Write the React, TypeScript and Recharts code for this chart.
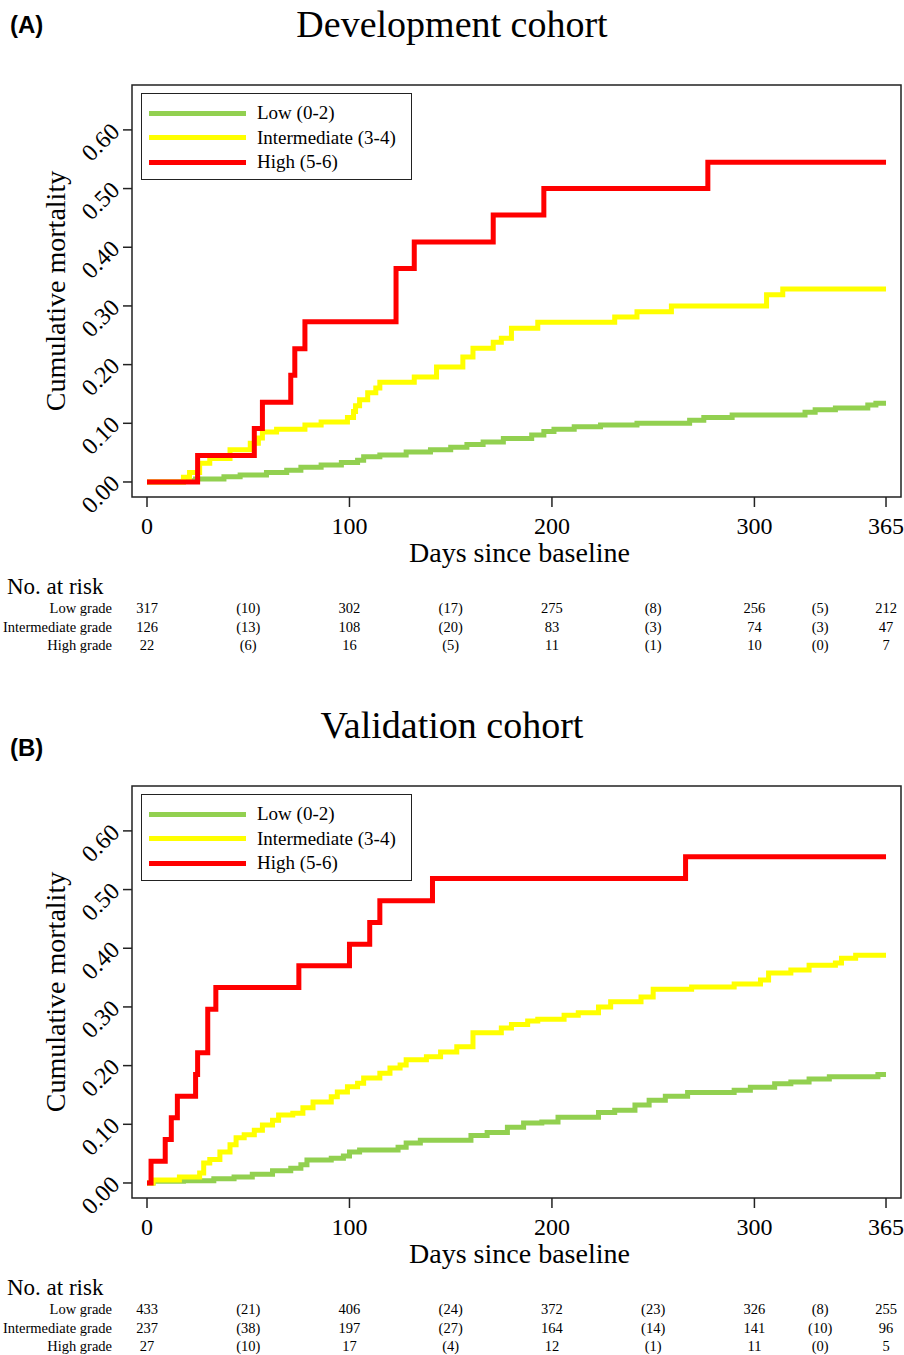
import React from "react";
import { LineChart, Line, XAxis, YAxis, ReferenceArea, Legend } from "recharts";

// ---- data (day, cumulative mortality) ----
const devLow: number[][] = [
  [0, 0], [18, 0.002], [24, 0.005], [38, 0.009], [46, 0.012], [59, 0.016], [69, 0.02],
  [76, 0.025], [86, 0.029], [96, 0.033], [104, 0.037], [107, 0.043], [115, 0.046],
  [128, 0.051], [140, 0.055], [150, 0.059], [158, 0.064], [166, 0.068], [176, 0.074],
  [190, 0.08], [196, 0.086], [201, 0.09], [211, 0.094], [224, 0.097], [242, 0.1],
  [268, 0.105], [275, 0.11], [289, 0.114], [325, 0.119], [330, 0.123], [340, 0.126],
  [356, 0.131], [360, 0.134], [365, 0.134],
];
const devMid: number[][] = [
  [0, 0], [18, 0.008], [21, 0.016], [26, 0.032], [31, 0.04], [41, 0.055], [51, 0.066],
  [55, 0.075], [57, 0.085], [64, 0.09], [78, 0.097], [86, 0.102], [99, 0.11], [102, 0.12],
  [103, 0.13], [105, 0.14], [109, 0.152], [113, 0.16], [115, 0.17], [132, 0.179],
  [143, 0.196], [156, 0.213], [161, 0.228], [171, 0.238], [175, 0.245], [180, 0.262],
  [193, 0.272], [231, 0.281], [242, 0.29], [259, 0.3], [306, 0.319], [314, 0.329],
  [365, 0.329],
];
const devHigh: number[][] = [
  [0, 0], [25, 0.045], [53, 0.091], [57, 0.136], [71, 0.182], [73, 0.227], [78, 0.273],
  [123, 0.364], [132, 0.409], [171, 0.455], [196, 0.5], [277, 0.545], [365, 0.545],
];

const valLow: number[][] = [
  [0, 0], [3, 0.003], [18, 0.004], [33, 0.007], [43, 0.01], [52, 0.015], [62, 0.021],
  [71, 0.025], [76, 0.031], [79, 0.039], [91, 0.042], [97, 0.046], [100, 0.053],
  [105, 0.056], [124, 0.061], [128, 0.068], [135, 0.073], [160, 0.081], [168, 0.086],
  [178, 0.095], [186, 0.102], [195, 0.104], [203, 0.112], [223, 0.12], [231, 0.124],
  [241, 0.133], [248, 0.141], [256, 0.148], [267, 0.154], [290, 0.158], [298, 0.163],
  [310, 0.169], [318, 0.172], [327, 0.177], [337, 0.181], [361, 0.185], [365, 0.185],
];
const valMid: number[][] = [
  [0, 0], [3, 0.005], [16, 0.01], [26, 0.017], [28, 0.034], [31, 0.04], [36, 0.053],
  [41, 0.065], [44, 0.077], [48, 0.082], [53, 0.09], [57, 0.099], [62, 0.107], [65, 0.116],
  [72, 0.119], [77, 0.128], [82, 0.138], [91, 0.147], [94, 0.155], [99, 0.164],
  [104, 0.17], [107, 0.179], [115, 0.187], [120, 0.196], [125, 0.201], [128, 0.21],
  [138, 0.215], [145, 0.223], [153, 0.232], [161, 0.256], [175, 0.264], [180, 0.27],
  [188, 0.276], [193, 0.279], [206, 0.286], [213, 0.29], [223, 0.3], [229, 0.309],
  [244, 0.317], [250, 0.33], [269, 0.334], [290, 0.339], [303, 0.346], [307, 0.358],
  [318, 0.363], [327, 0.371], [340, 0.375], [343, 0.383], [350, 0.388], [365, 0.388],
];
const valHigh: number[][] = [
  [0, 0], [2, 0.037], [9, 0.074], [12, 0.111], [15, 0.148], [24, 0.185], [25, 0.222],
  [30, 0.296], [34, 0.333], [75, 0.37], [100, 0.407], [110, 0.444], [115, 0.481],
  [141, 0.519], [266, 0.556], [365, 0.556],
];

// ---- risk tables ----
const riskDays = [0, 50, 100, 150, 200, 250, 300, 332.5, 365];
const devRiskLow = ["317", "(10)", "302", "(17)", "275", "(8)", "256", "(5)", "212"];
const devRiskMid = ["126", "(13)", "108", "(20)", "83", "(3)", "74", "(3)", "47"];
const devRiskHigh = ["22", "(6)", "16", "(5)", "11", "(1)", "10", "(0)", "7"];
const valRiskLow = ["433", "(21)", "406", "(24)", "372", "(23)", "326", "(8)", "255"];
const valRiskMid = ["237", "(38)", "197", "(27)", "164", "(14)", "141", "(10)", "96"];
const valRiskHigh = ["27", "(10)", "17", "(4)", "12", "(1)", "11", "(0)", "5"];

const groupNames = ["Low (0-2)", "Intermediate (3-4)", "High (5-6)"];
const groupColors = ["#92D050", "#FFFF00", "#FF0000"];
const riskLabels = ["Low grade", "Intermediate grade", "High grade"];
const xTicks = [0, 100, 200, 300, 365];
const yTicks = [0, 0.1, 0.2, 0.3, 0.4, 0.5, 0.6];

const serif = '"Liberation Serif", "Times New Roman", serif';
const X_MIN = -7.41;
const X_MAX = 372.4;
const Y_MIN = -0.0256;
const Y_MAX = 0.6765;
const PLOT_LEFT = 132;
const PLOT_RIGHT = 901;

const toPoints = (s: number[][]) => s.map(([x, y]) => ({ x, y }));
const dayToPx = (d: number) =>
  PLOT_LEFT + ((d - X_MIN) / (X_MAX - X_MIN)) * (PLOT_RIGHT - PLOT_LEFT);

const YTick = ({ x, y, payload }: any) => {
  const ay = y + 3;
  return (
    <text
      x={x}
      y={ay}
      transform={`rotate(-45 ${x} ${ay})`}
      textAnchor="end"
      fontFamily={serif}
      fontSize={24}
      fill="#000"
    >
      {Number(payload.value).toFixed(2)}
    </text>
  );
};

const XTick = ({ x, y, payload }: any) => (
  <text x={x} y={y} dy={25} textAnchor="middle" fontFamily={serif} fontSize={24} fill="#000">
    {payload.value}
  </text>
);

const XTitle = ({ viewBox }: any) => (
  <text
    x={viewBox.x + viewBox.width / 2 + 3}
    y={viewBox.y + 65}
    textAnchor="middle"
    fontFamily={serif}
    fontSize={28}
    fill="#000"
  >
    Days since baseline
  </text>
);

const YTitle = ({ viewBox }: any) => {
  const cx = 55;
  const cy = viewBox.y + viewBox.height / 2;
  return (
    <text
      x={cx}
      y={cy}
      transform={`rotate(-90 ${cx} ${cy})`}
      textAnchor="middle"
      dominantBaseline="central"
      fontFamily={serif}
      fontSize={28}
      fill="#000"
    >
      Cumulative mortality
    </text>
  );
};

const LegendBox = () => (
  <div
    style={{
      border: "1.5px solid #222",
      background: "#fff",
      width: 271,
      height: 87,
      boxSizing: "border-box",
      paddingTop: 7,
    }}
  >
    {groupNames.map((name, i) => (
      <div key={name} style={{ display: "flex", alignItems: "center", height: 24.5 }}>
        <div style={{ width: 97, height: 5, background: groupColors[i], marginLeft: 7 }} />
        <span style={{ marginLeft: 11, fontFamily: serif, fontSize: 19, color: "#000" }}>{name}</span>
      </div>
    ))}
  </div>
);

function Panel({ top, tag, tagTop, title, series, risk }: any) {
  return (
    <div style={{ position: "absolute", left: 0, top, width: 904, height: 660 }}>
      <div
        style={{
          position: "absolute",
          left: 10,
          top: tagTop,
          fontFamily: '"Liberation Sans", Arial, sans-serif',
          fontWeight: "bold",
          fontSize: 24,
          lineHeight: "24px",
        }}
      >
        {tag}
      </div>
      <div
        style={{
          position: "absolute",
          left: 0,
          top: 5,
          width: 904,
          textAlign: "center",
          fontFamily: serif,
          fontSize: 38,
          lineHeight: "38px",
        }}
      >
        {title}
      </div>
      <div style={{ position: "absolute", left: 0, top: 0 }}>
        <LineChart width={904} height={580} margin={{ top: 85, right: 3, bottom: 0, left: 0 }}>
          <XAxis
            dataKey="x"
            type="number"
            domain={[X_MIN, X_MAX]}
            ticks={xTicks}
            allowDataOverflow
            height={83}
            axisLine={false}
            tickSize={10}
            tickLine={{ stroke: "#222", strokeWidth: 1.5 }}
            tick={<XTick />}
            label={{ content: <XTitle /> }}
          />
          <YAxis
            dataKey="y"
            type="number"
            domain={[Y_MIN, Y_MAX]}
            ticks={yTicks}
            allowDataOverflow
            width={132}
            axisLine={false}
            tickSize={9}
            tickMargin={2}
            tickLine={{ stroke: "#222", strokeWidth: 1.5 }}
            tick={<YTick />}
            label={{ content: <YTitle /> }}
          />
          <ReferenceArea
            x1={X_MIN}
            x2={X_MAX}
            y1={Y_MIN}
            y2={Y_MAX}
            fill="none"
            stroke="#222"
            strokeWidth={1.5}
            ifOverflow="visible"
          />
          {series.map((s: number[][], i: number) => (
            <Line
              key={groupNames[i]}
              data={toPoints(s)}
              dataKey="y"
              name={groupNames[i]}
              type="stepAfter"
              stroke={groupColors[i]}
              strokeWidth={5}
              dot={false}
              activeDot={false}
              isAnimationActive={false}
            />
          ))}
          <Legend
            layout="vertical"
            align="center"
            verticalAlign="middle"
            content={<LegendBox />}
            wrapperStyle={{ top: 93, left: 141, width: 271, height: 87 }}
          />
        </LineChart>
      </div>
      <div
        style={{
          position: "absolute",
          left: 7,
          top: 587 - 12,
          fontFamily: serif,
          fontSize: 23,
          lineHeight: "24px",
        }}
      >
        No. at risk
      </div>
      {risk.map((row: string[], r: number) => {
        const cy = [608, 627, 645][r];
        return (
          <React.Fragment key={riskLabels[r]}>
            <div
              style={{
                position: "absolute",
                left: 0,
                width: 112,
                top: cy - 8,
                textAlign: "right",
                fontFamily: serif,
                fontSize: 14.5,
                lineHeight: "16px",
              }}
            >
              {riskLabels[r]}
            </div>
            {row.map((v, c) => (
              <div
                key={c}
                style={{
                  position: "absolute",
                  left: dayToPx(riskDays[c]) - 30,
                  width: 60,
                  top: cy - 8,
                  textAlign: "center",
                  fontFamily: serif,
                  fontSize: 14.5,
                  lineHeight: "16px",
                }}
              >
                {v}
              </div>
            ))}
          </React.Fragment>
        );
      })}
    </div>
  );
}

export default function App() {
  return (
    <div style={{ position: "absolute", left: 0, top: 0, width: 904, height: 1355, background: "#fff" }}>
      <Panel
        top={0}
        tag="(A)"
        tagTop={13}
        title="Development cohort"
        series={[devLow, devMid, devHigh]}
        risk={[devRiskLow, devRiskMid, devRiskHigh]}
      />
      <Panel
        top={701}
        tag="(B)"
        tagTop={35}
        title="Validation cohort"
        series={[valLow, valMid, valHigh]}
        risk={[valRiskLow, valRiskMid, valRiskHigh]}
      />
    </div>
  );
}
